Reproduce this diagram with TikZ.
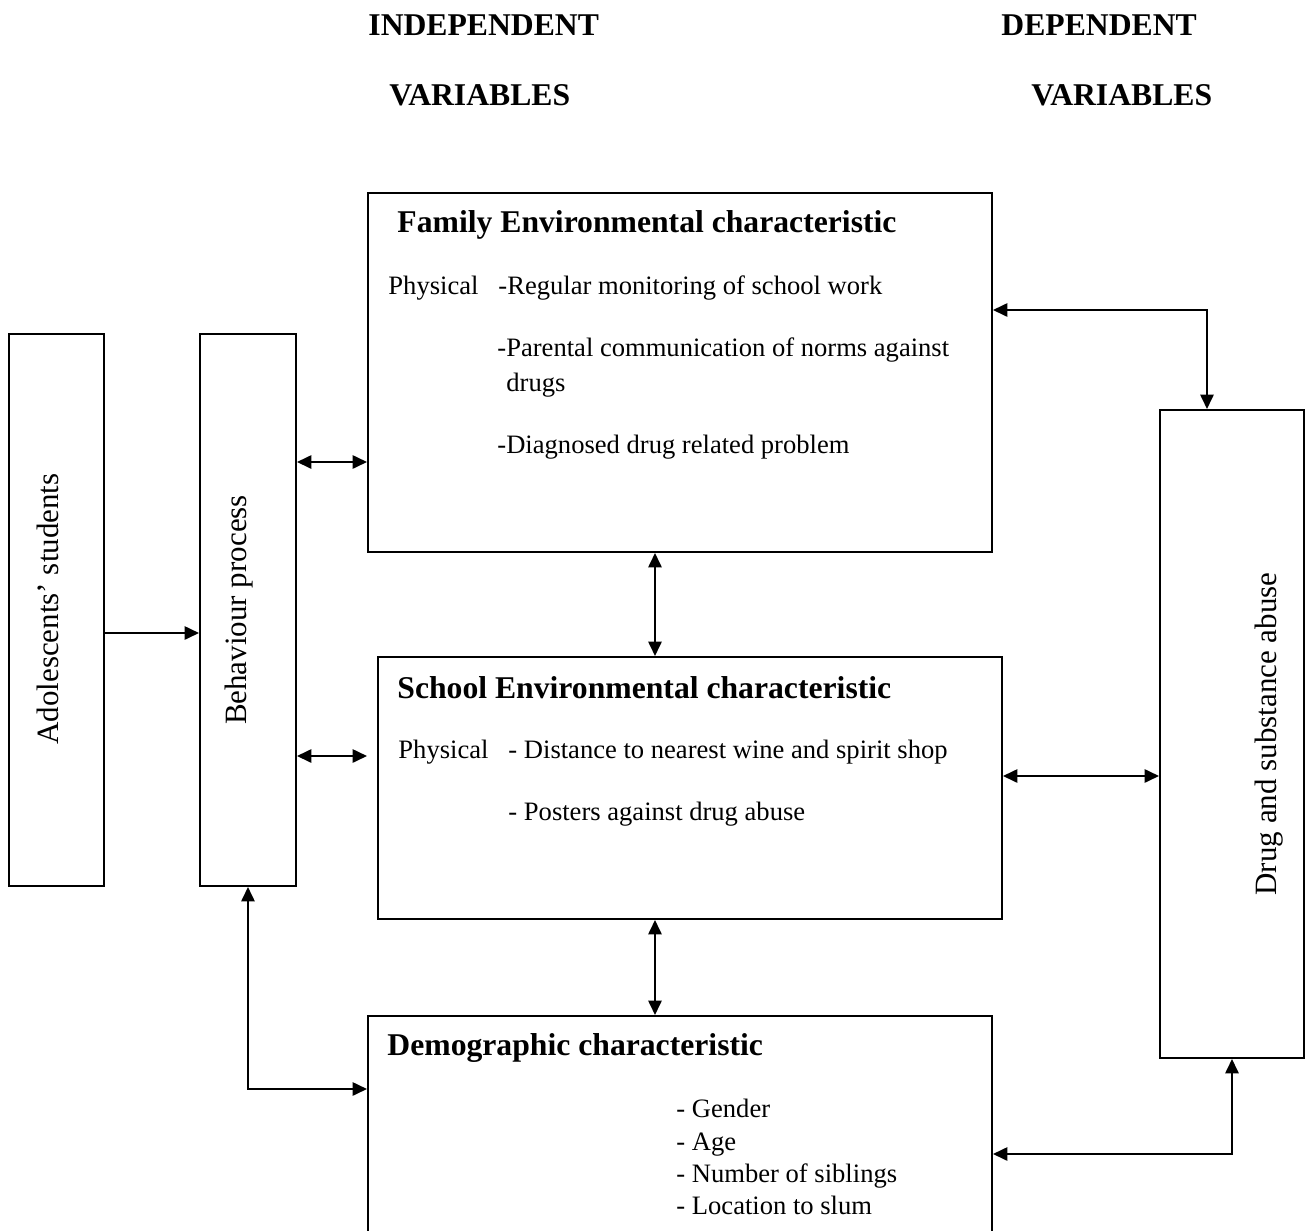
\documentclass[tikz,border=0pt]{standalone}
\usepackage{fontspec}
\setmainfont{Liberation Serif}
\usetikzlibrary{shapes.geometric, arrows.meta}

\begin{document}
\begin{tikzpicture}[x=0.4515pt, y=-0.4515pt,
        block/.style={rectangle, draw, line width=0.9pt, inner sep=0pt, anchor=north west},
        heading/.style={anchor=west, inner sep=0pt, font=\fontsize{14.3}{17}\selectfont\bfseries},
        txt/.style={anchor=west, inner sep=0pt, align=left, font=\fontsize{12}{14.7}\selectfont},
        sidetxt/.style={rotate=90, inner sep=0pt, font=\fontsize{14}{17}\selectfont},
        tip/.style={line width=0.9pt, -{Triangle[length=6.5pt,width=6pt]}},
        twotip/.style={line width=0.9pt, {Triangle[length=6.5pt,width=6pt]}-{Triangle[length=6.5pt,width=6pt]}}]

            \useasboundingbox (0,0) rectangle (1309,1231);
            \clip (0,0) rectangle (1309,1231);

            % column headings
            \node (indep1) [heading] at (368,25) {INDEPENDENT};
            \node (indep2) [heading] at (389,95) {VARIABLES};
            \node (dep1) [heading] at (1001,25) {DEPENDENT};
            \node (dep2) [heading] at (1031,95) {VARIABLES};

            % boxes
            \node (adol) [block, minimum width=42.89pt, minimum height=249.23pt] at (8,333) {};
            \node (behav) [block, minimum width=43.34pt, minimum height=249.23pt] at (199,333) {};
            \node (family) [block, minimum width=281.74pt, minimum height=162.09pt] at (367,192) {};
            \node (school) [block, minimum width=281.74pt, minimum height=118.29pt] at (377,656) {};
            \node (demo) [block, minimum width=281.74pt, minimum height=135.45pt] at (367,1015) {};
            \node (drug) [block, minimum width=65.02pt, minimum height=292.57pt] at (1159,409) {};

            % vertical labels
            \node (adoltxt) [sidetxt] at (48,609) {Adolescents’ students};
            \node (behavtxt) [sidetxt] at (239,610) {Behaviour process};
            \node (drugtxt) [sidetxt] at (1269,734) {Drug and substance abuse};

            % family box
            \node (famtitle) [heading] at (397,225) {Family Environmental characteristic};
            \node (famphys) [txt] at (388,288) {Physical};
            \node (fam1) [txt] at (498,288) {-Regular monitoring of school work};
            \node (fam2) [txt] at (497,350) {-Parental communication of norms against};
            \node (fam3) [txt] at (506,385) {drugs};
            \node (fam4) [txt] at (497,447) {-Diagnosed drug related problem};

            % school box
            \node (schtitle) [heading] at (397,688) {School Environmental characteristic};
            \node (schphys) [txt] at (398,752) {Physical};
            \node (sch1) [txt] at (508,752) {- Distance to nearest wine and spirit shop};
            \node (sch2) [txt] at (508,814) {- Posters against drug abuse};

            % demographic box
            \node (demtitle) [heading] at (387,1048) {Demographic characteristic};
            \node (dem1) [txt, anchor=north west, font=\fontsize{12}{14.5}\selectfont] at (676,1099) {- Gender\\- Age\\- Number of siblings\\- Location to slum};

            % connectors
            \draw[tip] (adol.east |- 0,633) -- (behav.west |- 0,633);
            \draw[twotip] (behav.east |- 0,462) -- (family.west |- 0,462);
            \draw[twotip] (behav.east |- 0,756) -- (family.west |- 0,756);
            \draw[twotip] (family.south -| 655,0) -- (school.north -| 655,0);
            \draw[twotip] (school.south -| 655,0) -- (demo.north -| 655,0);
            \draw[twotip] (behav.south) |- (demo.west |- 0,1089);
            \draw[twotip] (family.east |- 0,310) -| (1207,0 |- drug.north);
            \draw[twotip] (school.east |- 0,776) -- (drug.west |- 0,776);
            \draw[twotip] (demo.east |- 0,1154) -| (drug.south);

\end{tikzpicture}
\end{document}
